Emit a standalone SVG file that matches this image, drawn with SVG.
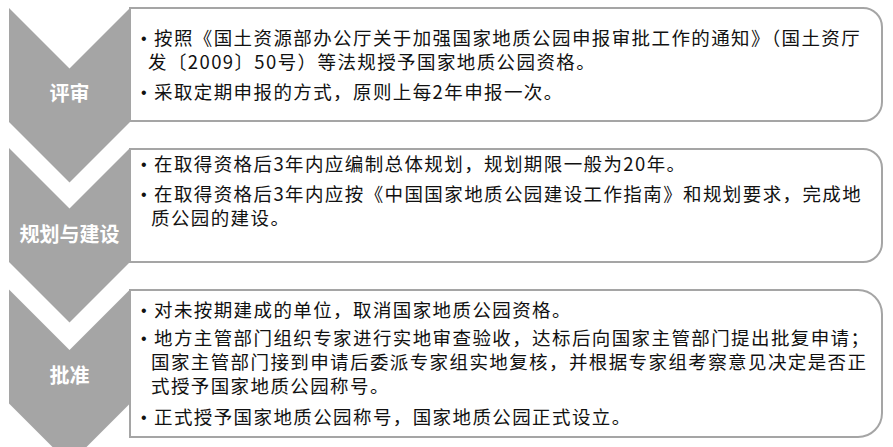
<svg xmlns="http://www.w3.org/2000/svg" width="893" height="447" viewBox="0 0 893 447">
<style>
.box{fill:#ffffff;stroke:#a5a5a5;stroke-width:2}
.chev{fill:#a5a5a5}
.lbl{font-family:"Noto Sans CJK SC","Noto Sans",sans-serif;font-size:20px;font-weight:bold;fill:#ffffff;text-anchor:middle}
.t{font-family:"Noto Sans CJK SC","Noto Sans",sans-serif;font-size:18.5px;letter-spacing:1.4px;fill:#111111}
.b{font-family:"Liberation Sans",sans-serif;font-size:16px;fill:#111111}
</style>
<rect width="893" height="447" fill="#ffffff"/>
<g id="box1">
<path class="box" d="M130,8 H863 A19,19 0 0 1 882,27 V102 A19,19 0 0 1 863,121 H130 Z"/>
<text class="b" x="141" y="44">•</text>
<text class="t" x="154" y="45">按照《国土资源部办公厅关于加强国家地质公园申报审批工作的通知》（国土资厅</text>
<text class="t" x="148" y="69">发〔2009〕50号）等法规授予国家地质公园资格。</text>
<text class="b" x="141" y="98">•</text>
<text class="t" x="154" y="99">采取定期申报的方式，原则上每2年申报一次。</text>
</g>
<g id="box2">
<path class="box" d="M130,149 H863 A19,19 0 0 1 882,168 V243 A19,19 0 0 1 863,262 H130 Z"/>
<text class="b" x="141" y="170">•</text>
<text class="t" x="154" y="171">在取得资格后3年内应编制总体规划，规划期限一般为20年。</text>
<text class="b" x="141" y="200">•</text>
<text class="t" x="154" y="201">在取得资格后3年内应按《中国国家地质公园建设工作指南》和规划要求，完成地</text>
<text class="t" x="151" y="225">质公园的建设。</text>
</g>
<g id="box3">
<path class="box" d="M130,290 H858 A24,24 0 0 1 882,314 V413 A24,24 0 0 1 858,437 H130 Z"/>
<text class="b" x="141" y="316">•</text>
<text class="t" x="154" y="317">对未按期建成的单位，取消国家地质公园资格。</text>
<text class="b" x="141" y="344">•</text>
<text class="t" x="154" y="345">地方主管部门组织专家进行实地审查验收，达标后向国家主管部门提出批复申请；</text>
<text class="t" x="151" y="369">国家主管部门接到申请后委派专家组实地复核，并根据专家组考察意见决定是否正</text>
<text class="t" x="151" y="393">式授予国家地质公园称号。</text>
<text class="b" x="141" y="423">•</text>
<text class="t" x="154" y="424">正式授予国家地质公园称号，国家地质公园正式设立。</text>
</g>
<g id="chevron1">
<path class="chev" d="M9,8 L69.5,68.5 L130,8 L130,122 L69.5,182.5 L9,122 Z"/>
<text class="lbl" x="69.5" y="101">评审</text>
</g>
<g id="chevron2">
<path class="chev" d="M9,148 L69.5,208.5 L130,148 L130,262 L69.5,322.5 L9,262 Z"/>
<text class="lbl" x="69.5" y="242">规划与建设</text>
</g>
<g id="chevron3">
<path class="chev" d="M9,289.5 L69.5,350 L130,289.5 L130,403.5 L69.5,464 L9,403.5 Z"/>
<text class="lbl" x="69.5" y="383">批准</text>
</g>
<g id="connectors"></g>
</svg>
